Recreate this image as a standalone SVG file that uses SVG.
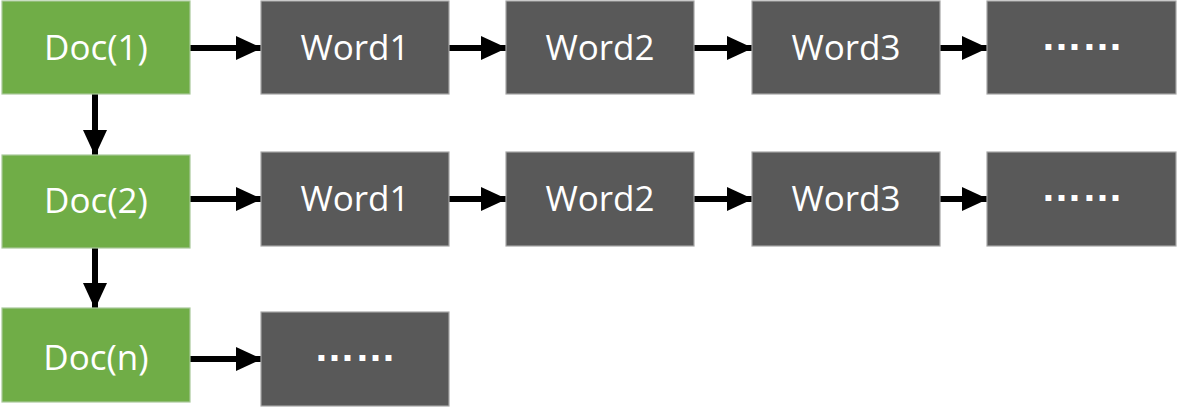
<svg xmlns="http://www.w3.org/2000/svg" width="1177" height="407" viewBox="0 0 1177 407">
<style>
.doc{fill:#70AD47;stroke:#A8C99A;stroke-width:1.2}
.word{fill:#595959;stroke:#A6A6A6;stroke-width:1.2}
.t{fill:#ffffff;font-family:"Open Sans","Liberation Sans",sans-serif;font-size:35px;text-anchor:middle}
.dots{fill:#ffffff;font-family:"Liberation Sans",Arial,sans-serif;font-weight:bold;font-size:41px;text-anchor:middle}
.c{stroke:#000;stroke-width:6;stroke-linecap:round;fill:none;marker-end:url(#ah)}
</style>
<defs>
<marker id="ah" markerUnits="userSpaceOnUse" markerWidth="26" markerHeight="24" viewBox="0 0 26 24" refX="25" refY="12" orient="auto">
<path d="M0,0 L26,12 L0,24 Z" fill="#000"/>
</marker>
</defs>
<rect width="1177" height="407" fill="#ffffff"/>
<g id="connectors">
<path class="c" d="M190,48 H261"/>
<path class="c" d="M449,48 H506"/>
<path class="c" d="M694,48 H752"/>
<path class="c" d="M940,48 H987"/>
<path class="c" d="M190,199 H261"/>
<path class="c" d="M449,199 H506"/>
<path class="c" d="M694,199 H752"/>
<path class="c" d="M940,199 H987"/>
<path class="c" d="M190,359 H261"/>
<path class="c" d="M95,94 V155"/>
<path class="c" d="M95,248 V308"/>
</g>
<g id="doc1"><rect class="doc" x="2" y="1" width="188" height="93"/><text class="t" x="96" y="60">Doc(1)</text></g>
<g id="doc2"><rect class="doc" x="2" y="155" width="188" height="93"/><text class="t" x="96" y="213">Doc(2)</text></g>
<g id="docn"><rect class="doc" x="2" y="308" width="188" height="94"/><text class="t" x="96" y="370">Doc(n)</text></g>
<g id="r1w1"><rect class="word" x="261" y="1" width="188" height="93"/><text class="t" x="355" y="60">Word1</text></g>
<g id="r1w2"><rect class="word" x="506" y="1" width="188" height="93"/><text class="t" x="600" y="60">Word2</text></g>
<g id="r1w3"><rect class="word" x="752" y="1" width="188" height="93"/><text class="t" x="846" y="60">Word3</text></g>
<g id="r1w4"><rect class="word" x="987" y="1" width="189" height="93"/><text class="dots" x="1082" y="50">……</text></g>
<g id="r2w1"><rect class="word" x="261" y="152" width="188" height="94"/><text class="t" x="355" y="211">Word1</text></g>
<g id="r2w2"><rect class="word" x="506" y="152" width="188" height="94"/><text class="t" x="600" y="211">Word2</text></g>
<g id="r2w3"><rect class="word" x="752" y="152" width="188" height="94"/><text class="t" x="846" y="211">Word3</text></g>
<g id="r2w4"><rect class="word" x="987" y="152" width="189" height="94"/><text class="dots" x="1082" y="201">……</text></g>
<g id="r3w1"><rect class="word" x="261" y="312" width="188" height="94"/><text class="dots" x="355" y="361">……</text></g>
</svg>
